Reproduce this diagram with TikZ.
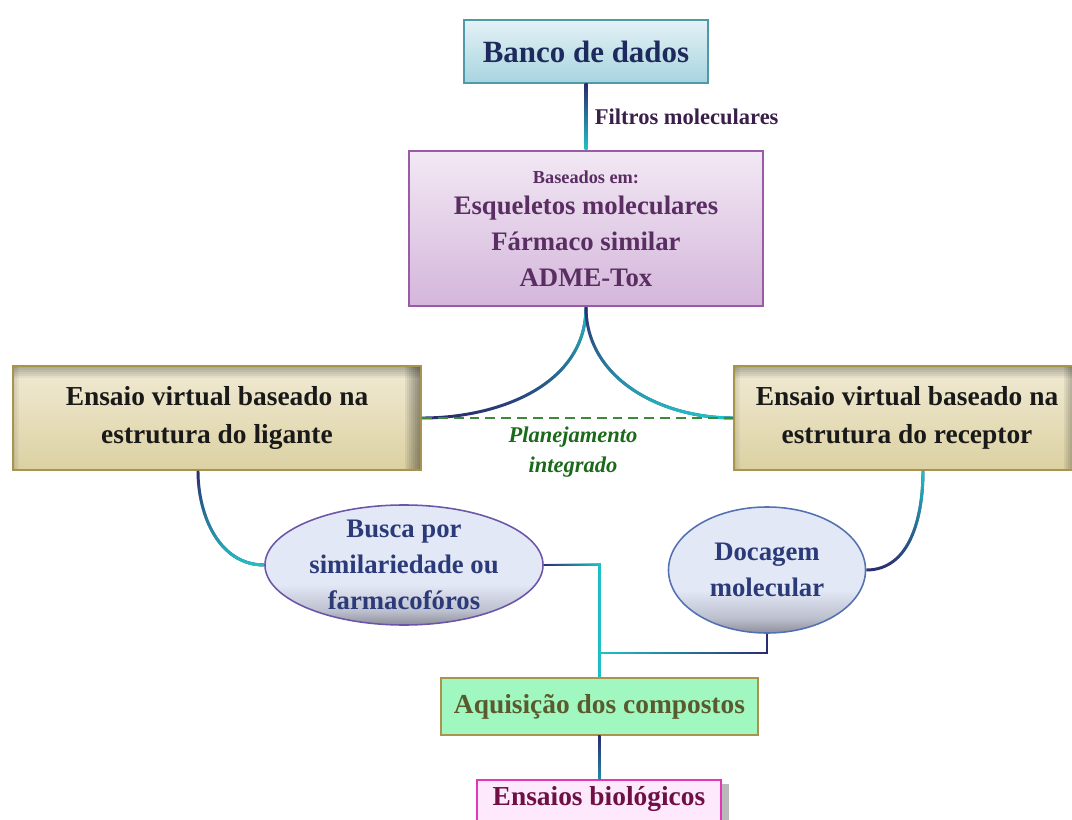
\documentclass[tikz,border=0pt]{standalone}
\usepackage{fontspec}
\setmainfont{Liberation Serif}
\usetikzlibrary{shapes.geometric,calc,fadings,shadows}

\definecolor{navyline}{HTML}{2B2B6E}
\definecolor{cyanline}{HTML}{20C4C8}
\definecolor{bancotop}{HTML}{E4F2F6}
\definecolor{bancobot}{HTML}{A7D4DF}
\definecolor{bancoedge}{HTML}{4E9AA9}
\definecolor{bancotext}{HTML}{1F2A5C}
\definecolor{propstop}{HTML}{F2E8F4}
\definecolor{propsbot}{HTML}{D4B6DB}
\definecolor{propsedge}{HTML}{9A5AA6}
\definecolor{propstext}{HTML}{5A2E62}
\definecolor{tantop}{HTML}{F0EAD4}
\definecolor{tanbot}{HTML}{DCD1A2}
\definecolor{tanedge}{HTML}{A8944C}
\definecolor{elltop}{HTML}{E3E8F6}
\definecolor{ellbot}{HTML}{8E8F9C}
\definecolor{buscaedge}{HTML}{6A55A8}
\definecolor{docaedge}{HTML}{5270B2}
\definecolor{elltext}{HTML}{2B3A78}
\definecolor{aquisfill}{HTML}{A0F7C0}
\definecolor{aquistext}{HTML}{5B5A2E}
\definecolor{ensfill}{HTML}{FDE9FB}
\definecolor{ensedge}{HTML}{E238B4}
\definecolor{enstext}{HTML}{6E0F45}
\definecolor{planline}{HTML}{3A8A3A}
\definecolor{plantext}{HTML}{1A6A1A}
\definecolor{filtrotext}{HTML}{3A1F4A}

\pgfdeclareverticalshading{ellshade}{100bp}{color(0bp)=(ellbot); color(25bp)=(ellbot); color(31bp)=(ellbot!45!elltop); color(42bp)=(elltop); color(100bp)=(elltop)}

\tikzset{
  boxfont/.style={font=\fontsize{19.5}{27}\selectfont\bfseries},
  bancobox/.style={draw=bancoedge, line width=1.4pt, top color=bancotop, bottom color=bancobot,
    minimum width=6.1cm, minimum height=1.575cm, text=bancotext,
    font=\fontsize{22}{26}\selectfont\bfseries},
  propsbox/.style={draw=propsedge, line width=1.4pt, top color=propstop, bottom color=propsbot,
    minimum width=8.85cm, minimum height=3.875cm, align=center, text=propstext,
    font=\fontsize{19}{25.5}\selectfont\bfseries},
  tanbox/.style={draw=tanedge, line width=1.2pt, top color=tantop, bottom color=tanbot,
    minimum height=2.6cm, align=center, text=black!90, boxfont,
    path picture={
      % inner shadow, right and top edges
      \foreach \k in {1,...,8}
        \fill[black, opacity=.06] ($(path picture bounding box.north east)+(-2*\k,0)$)
          rectangle (path picture bounding box.south east);
      \foreach \k in {1,...,6}
        \fill[black, opacity=.05] (path picture bounding box.north west)
          rectangle ($(path picture bounding box.north east)+(0,2*\k)$);
      \foreach \k in {1,...,3}
        \fill[black, opacity=.04] (path picture bounding box.north west)
          rectangle ($(path picture bounding box.south west)+(2*\k,0)$);
    }},
  ellbox/.style={ellipse, line width=1.1pt, shade, shading=ellshade, inner sep=0pt},
  elltxt/.style={align=center, text=elltext, font=\fontsize{19}{25.5}\selectfont\bfseries},
  aquisbox/.style={draw=tanedge, line width=1.2pt, fill=aquisfill, minimum width=7.925cm,
    minimum height=1.425cm, text=aquistext, boxfont},
  ensbox/.style={draw=ensedge, line width=1.2pt, fill=ensfill, minimum width=6.1cm, minimum height=1.15cm,
    drop shadow={shadow xshift=6pt, shadow yshift=-3pt, opacity=.55}},
  link/.style={line width=2.1pt, navyline},
  linkglow/.style={line width=2.1pt, cyanline},
}

\begin{document}
\begin{tikzpicture}
  \begin{scope}[x=0.025cm,y=-0.025cm]
    \useasboundingbox (0,0) rectangle (1072,820);

    % boxes
    \node[bancobox] (banco) at (586,51.5) {Banco de dados};
    \node[propsbox] (props) at (586,228.5)
      {{\fontsize{13}{15}\selectfont Baseados em:}\\[-3pt]Esqueletos moleculares\\Fármaco similar\\ADME-Tox};
    \node[tanbox, minimum width=10.2cm] (ligante) at (217,418)
      {Ensaio virtual baseado na\\estrutura do ligante};
    \node[tanbox, minimum width=8.65cm] (receptor) at (907,418)
      {Ensaio virtual baseado na\\estrutura do receptor};

    % ellipses
    \node[ellbox, draw=buscaedge, minimum width=6.95cm, minimum height=3cm] (busca) at (404,565) {};
    \node[elltxt] (buscatxt) at (busca.center) {Busca por\\similariedade ou\\farmacofóros};
    \node[ellbox, draw=docaedge, minimum width=4.925cm, minimum height=3.15cm] (docagem) at (767,570) {};
    \node[elltxt] (docagemtxt) at (docagem.center) {Docagem\\molecular};

    \node[aquisbox] (aquis) at (599.5,706.5) {Aquisição dos compostos};
    \node[ensbox] (ensaios) at (599,803) {};
    \node[boxfont, text=enstext] (ensaiostxt) at (599,799) {Ensaios biológicos};

    % labels
    \node[anchor=west, text=filtrotext, font=\fontsize{16}{19}\selectfont\bfseries] (filtros) at (590,117)
      {Filtros moleculares};
    \node[align=center, text=plantext, font=\fontsize{16}{21}\selectfont\bfseries\itshape] (planej) at (573,452)
      {Planejamento\\integrado};

    % connectors
    \coordinate (junct) at (599.5,653);
    \shade[top color=navyline, bottom color=cyanline]
      ($(banco.south)+(-1.5,0)$) rectangle ($(props.north)+(1.5,0)$);
    \draw[link] (props.south) to[out=-90,in=0] (ligante.east);
    \draw[linkglow, path fading=south] (props.south) to[out=-90,in=0] (ligante.east);
    \draw[link] (props.south) to[out=-90,in=180] (receptor.west);
    \draw[linkglow, path fading=north] (props.south) to[out=-90,in=180] (receptor.west);
    \draw[planline, line width=1.2pt, dash pattern=on 7pt off 4.3pt] (ligante.east) -- (receptor.west);

    \draw[link] ($(ligante.south)+(-19,0)$) to[out=-90,in=180] (busca.west);
    \draw[linkglow, path fading=north] ($(ligante.south)+(-19,0)$) to[out=-90,in=180] (busca.west);
    \draw[link] ($(receptor.south)+(16,0)$) to[out=-90,in=0] (docagem.east);
    \draw[linkglow, path fading=south] ($(receptor.south)+(16,0)$) to[out=-90,in=0] (docagem.east);

    \draw[link] (busca.east) -| (aquis.north);
    \draw[linkglow, path fading=west] (busca.east) -| (aquis.north);
    \draw[link] (docagem.south) |- (junct);
    \draw[linkglow, path fading=east] (docagem.south) |- (junct);
    \shade[top color=navyline, bottom color=navyline!40!cyanline]
      ($(aquis.south)+(-1.5,0)$) rectangle ($(ensaios.north)+(1.5,0)$);
  \end{scope}
\end{tikzpicture}
\end{document}
